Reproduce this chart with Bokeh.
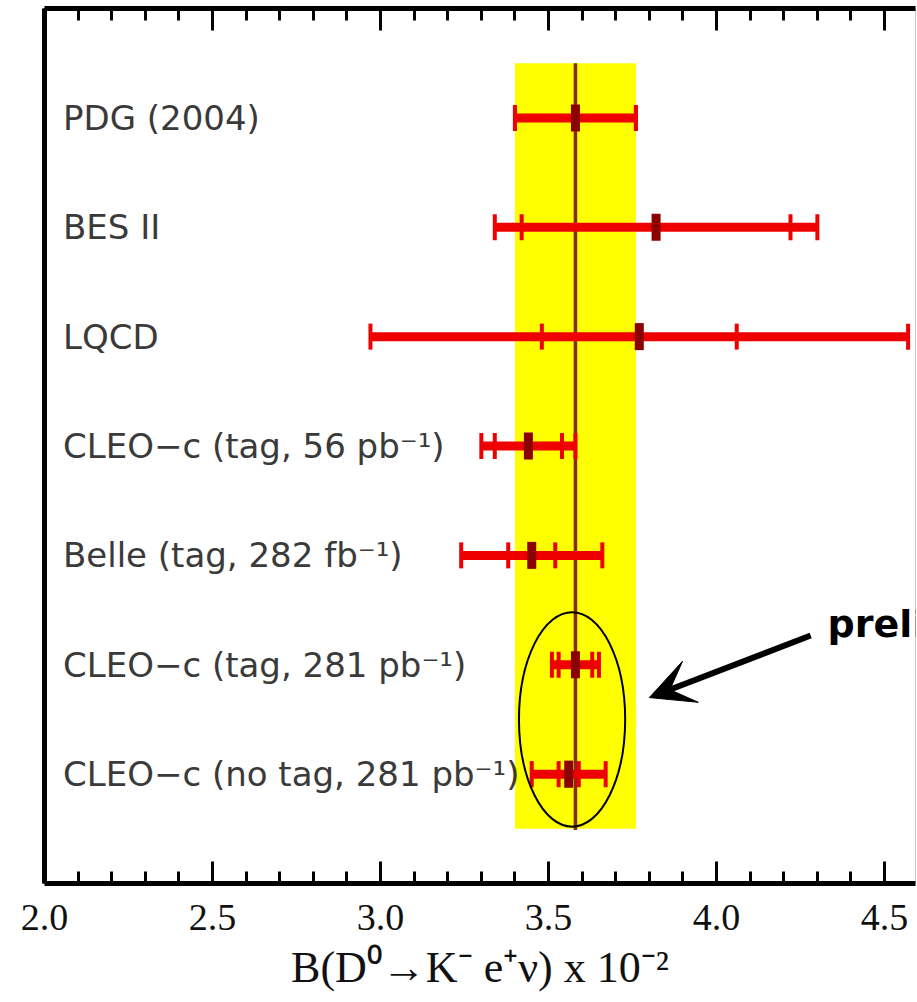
from bokeh.plotting import figure
from bokeh.models import Range1d, FixedTicker, LinearAxis, Arrow, VeeHead, PrintfTickFormatter
from bokeh.embed import file_html
from bokeh.resources import INLINE
from bokeh.core.properties import value

# ---- data ----
labels = [
    "PDG (2004)",
    "BES II",
    "LQCD",
    "CLEO\u2212c (tag, 56 pb\u207b\u00b9)",
    "Belle (tag, 282 fb\u207b\u00b9)",
    "CLEO\u2212c (tag, 281 pb\u207b\u00b9)",
    "CLEO\u2212c (no tag, 281 pb\u207b\u00b9)",
]
rows = [7, 6, 5, 4, 3, 2, 1]
values = [3.58, 3.82, 3.77, 3.44, 3.45, 3.58, 3.56]
stat_err = [0.18, 0.40, 0.29, 0.10, 0.07, 0.05, 0.03]
total_err = [0.18, 0.48, 0.80, 0.14, 0.21, 0.07, 0.11]
avg_value = 3.58
avg_err = 0.18
tick_values = [2.0, 2.5, 3.0, 3.5, 4.0, 4.5]
tick_labels = ["2.0", "2.5", "3.0", "3.5", "4.0", "4.5"]
minor_tick_values = [2.1, 2.2, 2.3, 2.4, 2.6, 2.7, 2.8, 2.9, 3.1, 3.2, 3.3, 3.4,
                     3.6, 3.7, 3.8, 3.9, 4.1, 4.2, 4.3, 4.4, 4.6]
x_title = "B(D\u2070\u2192K\u207b e\u207a\u03bd) x 10\u207b\u00b2"
note_text = "preliminary"

# ---- derived ----
tot_lo = [v - e for v, e in zip(values, total_err)]
tot_hi = [v + e for v, e in zip(values, total_err)]
st_lo = [v - e for v, e in zip(values, stat_err)]
st_hi = [v + e for v, e in zip(values, stat_err)]

p = figure(width=917, height=1002, x_range=Range1d(2.0, 4.592), y_range=Range1d(0, 8),
           output_backend="svg", toolbar_location=None,
           min_border_left=44, min_border_right=2, min_border_top=8, min_border_bottom=119)
p.grid.visible = False
p.outline_line_color = "#c8c8c8"
p.outline_line_width = 1
p.background_fill_color = "white"
p.border_fill_color = "white"

RED = "#ee0000"
DARK = "#8b0000"

# band and central value
p.quad(left=[avg_value - avg_err], right=[avg_value + avg_err], bottom=[0.5], top=[7.5],
       fill_color="#ffff00", line_color=None)
p.segment(x0=[avg_value], x1=[avg_value], y0=[0.49], y1=[7.5], line_color="#8b2a0a", line_width=3.5)

# error bars
p.segment(x0=tot_lo, x1=tot_hi, y0=rows, y1=rows, line_color=RED, line_width=9)
p.rect(x=tot_lo + tot_hi, y=rows + rows, width=4, height=26, width_units="screen",
       height_units="screen", fill_color=RED, line_color=None)
p.rect(x=st_lo + st_hi, y=rows + rows, width=4, height=26, width_units="screen",
       height_units="screen", fill_color=RED, line_color=None)
p.rect(x=values, y=rows, width=9, height=27, width_units="screen", height_units="screen",
       fill_color=DARK, line_color=None)

# row labels
p.text(x=[2.055] * len(rows), y=rows, text=labels, text_font=value("DejaVu Sans"),
       text_font_size="34px", text_color="#3a3a3a", text_baseline="middle", text_align="left")

# annotation: ellipse, arrow, note
ell_x = (values[5] + values[6]) / 2
ell_y = (rows[5] + rows[6]) / 2
p.ellipse(x=[ell_x], y=[ell_y], width=[0.316], height=[1.96], fill_color=None,
          line_color="black", line_width=2)
p.add_layout(Arrow(end=VeeHead(size=44, fill_color="black", line_color="black"),
                   x_start=4.28, y_start=2.267, x_end=3.80, y_end=1.70,
                   line_color="black", line_width=6))
p.text(x=[4.33], y=[2.377], text=[note_text], text_font=value("DejaVu Sans"),
       text_font_size="38px", text_font_style="bold", text_color="black",
       text_baseline="alphabetic", text_align="left")

# axes
def style_x(ax):
    ax.ticker = FixedTicker(ticks=tick_values, minor_ticks=minor_tick_values)
    ax.axis_line_width = 5
    ax.axis_line_color = "black"
    ax.major_tick_line_width = 3
    ax.minor_tick_line_width = 3
    ax.major_tick_in = 22
    ax.major_tick_out = 0
    ax.minor_tick_in = 12
    ax.minor_tick_out = 0

xa = p.xaxis[0]
style_x(xa)
xa.formatter = PrintfTickFormatter(format="%.1f")
xa.major_label_overrides = dict(zip(tick_values, tick_labels))
xa.major_label_text_font = "Liberation Serif"
xa.major_label_text_font_size = "38px"
xa.major_label_text_color = "#111111"
xa.major_label_standoff = 21
xa.axis_label = x_title
xa.axis_label_text_font = "Liberation Serif"
xa.axis_label_text_font_size = "44px"
xa.axis_label_text_font_style = "normal"
xa.axis_label_text_color = "#111111"
xa.axis_label_standoff = 10

top = LinearAxis()
style_x(top)
top.major_label_text_font_size = "1px"
top.major_label_text_color = None
top.major_label_standoff = 0
p.add_layout(top, "above")

ya = p.yaxis[0]
ya.ticker = FixedTicker(ticks=[])
ya.axis_line_width = 5
ya.axis_line_color = "black"
ya.major_tick_in = 0
ya.major_tick_out = 0
ya.minor_tick_in = 0
ya.minor_tick_out = 0

open("out.html", "w").write(file_html(p, INLINE))
